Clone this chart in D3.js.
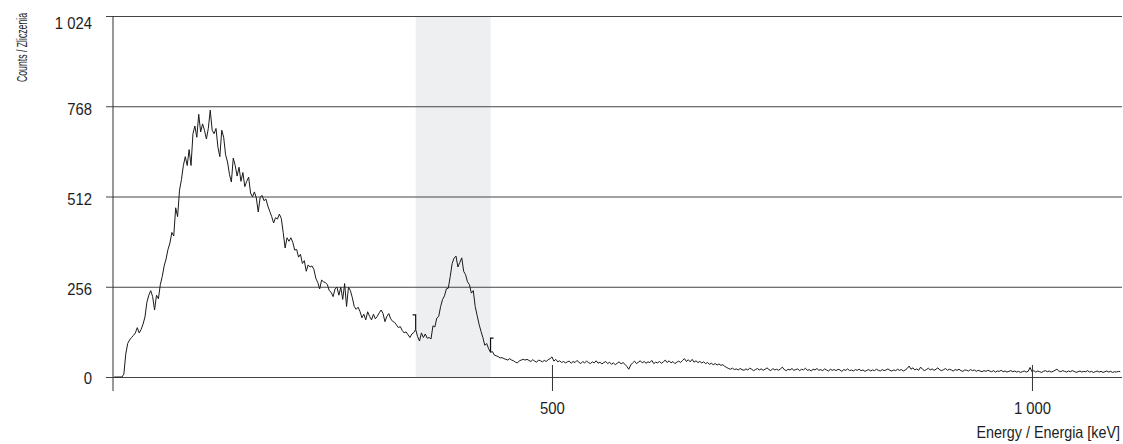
<!DOCTYPE html>
<html><head><meta charset="utf-8">
<script src="https://cdn.jsdelivr.net/npm/d3@7"></script>
<style>
body{margin:0;background:#fff}
svg{display:block}
text{font-family:"Liberation Sans",Arial,Helvetica,sans-serif;fill:#1e1e1e}
</style>
</head><body>
<svg id="c" width="1123" height="444"></svg>
<script>
// ---- data ----
const channelStart = 44;   // keV of first channel
const channelStep = 2;     // keV per channel
const counts = [
  0,0,0,0,0,
  8,65,95,105,112,118,125,140,125,135,150,
  170,212,232,245,228,190,232,222,262,285,315,335,362,380,410,400,480,455,530,560,600,625,600,645,600,690,712,680,745,695,718,700,675,705,757,700,690,705,652,625,700,680,
  630,610,575,553,621,600,570,595,555,580,540,555,567,522,511,525,508,468,510,515,500,505,485,470,455,437,452,448,462,450,410,366,395,385,395,382,360,362,340,348,322,330,300,318,312,315,305,280,268,250,275,270,
  268,262,245,240,228,250,255,232,255,220,265,200,255,245,225,200,192,198,186,168,178,162,185,172,162,178,165,172,182,190,180,157,172,180,165,158,155,148,140,143,132,125,128,120,112,122,126,135,115,102,125,112,122,110,
  112,108,145,142,167,172,200,220,230,250,252,285,322,337,343,312,325,338,300,290,270,262,238,245,200,175,150,130,112,90,95,80,70,72,62,60,58,54,55,52,50,48,52,48,46,42,40,46,48,50,48,50,
  47,44,49,45,42,48,46,43,47,44,
  49,52,57,45,50,43,46,41,44,40,
  43,45,39,44,41,47,42,38,44,40,
  45,41,38,43,40,46,39,42,37,41,
  44,38,42,36,40,35,39,43,37,41,
  36,30,22,34,40,45,38,42,46,40,
  44,39,43,41,47,38,42,40,44,39,
  43,48,41,46,40,44,38,42,45,41,
  47,52,44,49,43,50,42,46,41,44,
  40,43,38,41,36,39,35,38,34,37,
  33,35,30,27,24,22,25,21,23,20,
  24,21,19,23,20,25,22,18,21,24,
  20,23,19,22,26,21,18,24,20,22,
  19,23,28,21,18,22,20,24,19,21,
  23,18,22,20,25,19,21,17,22,20,
  24,19,21,18,23,20,17,22,19,21,
  18,22,20,16,21,19,23,18,20,17,
  21,19,22,18,20,16,19,21,17,20,
  18,22,19,17,21,18,20,23,19,17,
  20,18,22,19,21,17,20,24,31,22,
  26,20,23,19,28,22,18,21,25,20,
  23,19,22,26,20,18,21,24,19,22,
  20,17,21,19,22,18,16,20,19,17,
  21,18,20,16,19,17,15,18,16,19,
  17,15,18,14,17,16,19,15,17,14,
  16,18,15,17,14,16,13,15,17,14,
  16,27,15,18,14,17,15,13,16,18,
  15,17,14,16,19,22,17,15,18,16,
  14,17,15,18,16,13,15,17,14,16,
  15,18,14,16,13,15,17,14,16,13,
  15,17,14,16,13,15,14,16,15
];
const xDomain = [42.7, 1093.8];
const yDomain = [0, 1024];
const yTicks = [0, 256, 512, 768, 1024];
const yTickLabels = ["0", "256", "512", "768", "1 024"];
const xTicks = [500, 1000];
const xTickLabels = ["500", "1 000"];
const roi = [358, 436];
const roiMarkerTops = [176, 110];
const xTitle = "Energy / Energia [keV]";
const yTitle = "Counts / Zliczenia";

// ---- chart ----
const svg = d3.select("#c");
const L = 113, R = 1122, T = 16, B = 377;
const x = d3.scaleLinear().domain(xDomain).range([L, R]);
const y = d3.scaleLinear().domain(yDomain).range([B, T]);
const pts = counts.map((c, i) => ({e: channelStart + i * channelStep, c}));
const NARROW = 0.9;

// ROI band
svg.append("rect")
  .attr("x", x(roi[0])).attr("y", T)
  .attr("width", x(roi[1]) - x(roi[0])).attr("height", B - T)
  .attr("fill", "#eeeff1");

// y grid + labels
const yAxis = d3.axisLeft(y).tickValues(yTicks)
  .tickFormat((d, i) => yTickLabels[i])
  .tickSize(-(R - 106)).tickPadding(14);
const gy = svg.append("g").attr("transform", "translate(106,0)").call(yAxis);
gy.select(".domain").remove();
gy.selectAll(".tick line").attr("stroke", "#444");
gy.selectAll(".tick text")
  .attr("font-family", null)
  .attr("font-size", 16.5).attr("fill", "#1e1e1e")
  .attr("transform", function(d) {
    const tx = +d3.select(this).attr("x");
    const ty = d === yDomain[1] ? 7 : (d === yDomain[0] ? 0.5 : 2);
    return `translate(${tx},${ty}) scale(${NARROW},1)`;
  })
  .attr("x", 0).attr("dy", "0.36em");

// y axis line
svg.append("line").attr("x1", L).attr("x2", L).attr("y1", T).attr("y2", 391)
  .attr("stroke", "#333");

// spectrum
svg.append("path").datum(pts)
  .attr("fill", "none").attr("stroke", "#1a1a1a").attr("stroke-width", 1)
  .attr("d", d3.line().x(d => x(d.e)).y(d => y(d.c)));

// ROI markers
const valAt = e => { const i = Math.round((e - channelStart) / channelStep); return counts[i]; };
roi.forEach((e, k) => {
  const xv = x(e), dir = k === 0 ? -1 : 1;
  svg.append("path")
    .attr("d", `M${xv + dir * 3},${y(roiMarkerTops[k])}H${xv}V${y(valAt(e))}`)
    .attr("fill", "none").attr("stroke", "#111").attr("stroke-width", 1.2);
});

// x axis ticks + labels
const xAxis = d3.axisBottom(x).tickValues(xTicks)
  .tickFormat((d, i) => xTickLabels[i]).tickSize(14).tickPadding(11);
const gx = svg.append("g").attr("transform", `translate(0,${B})`).call(xAxis);
gx.select(".domain").remove();
gx.selectAll(".tick line").attr("y1", -12).attr("stroke", "#333");
gx.selectAll(".tick text")
  .attr("font-family", null)
  .attr("font-size", 16.5).attr("fill", "#1e1e1e")
  .attr("transform", `scale(${NARROW},1)`);

// titles
svg.append("text").attr("transform", `translate(1120,438) scale(0.87,1)`)
  .attr("text-anchor", "end").attr("font-size", 16.5).text(xTitle);
svg.append("text").attr("transform", "translate(27,13) rotate(-90) scale(0.6,1)")
  .attr("text-anchor", "end").attr("font-size", 14.5).text(yTitle);
</script>
</body></html>
